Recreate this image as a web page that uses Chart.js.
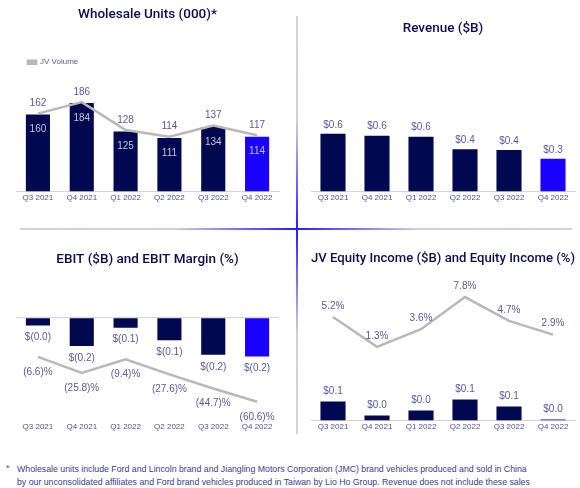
<!DOCTYPE html>
<html>
<head>
<meta charset="utf-8">
<script src="https://cdn.jsdelivr.net/npm/chart.js@4.4.0/dist/chart.umd.min.js"></script>
<style>
  body { margin: 0; background: #fff; width: 580px; height: 488px; overflow: hidden; position: relative; font-family: 'Liberation Sans', Arial, sans-serif; }
  .panel { position: absolute; }
  .hline { position: absolute; left: 20px; top: 228px; width: 552px; height: 2px;
    background: linear-gradient(to right, #d4d4d4 0%, #cfcfe4 28%, #2a1aff 50%, #cfcfe4 72%, #d4d4d4 100%); }
  .vline { position: absolute; left: 296px; top: 16px; width: 2px; height: 418px;
    background: linear-gradient(to bottom, #d4d4d4 0%, #cfcfe4 25%, #2a1aff 51%, #cfcfe4 76%, #d4d4d4 100%); }
  .note { position: absolute; font-size: 8.75px; line-height: 13px; color: #3c3c8a; white-space: nowrap; }
</style>
</head>
<body>
<div class="panel" style="left:0;top:0;width:297px;height:210px"><canvas id="units"></canvas></div>
<div class="panel" style="left:297px;top:0;width:283px;height:210px"><canvas id="revenue"></canvas></div>
<div class="panel" style="left:0;top:229px;width:297px;height:207px"><canvas id="ebit"></canvas></div>
<div class="panel" style="left:297px;top:229px;width:283px;height:207px"><canvas id="equity"></canvas></div>
<div class="hline"></div>
<div class="vline"></div>
<div class="note" style="left:6px;top:462px">*</div>
<div class="note" style="left:17px;top:463px">Wholesale units include Ford and Lincoln brand and Jiangling Motors Corporation (JMC) brand vehicles produced and sold in China</div>
<div class="note" style="left:17px;top:476px">by our unconsolidated affiliates and Ford brand vehicles produced in Taiwan by Lio Ho Group. Revenue does not include these sales</div>
<script>
var quarters = ['Q3 2021', 'Q4 2021', 'Q1 2022', 'Q2 2022', 'Q3 2022', 'Q4 2022'];
var wholesaleUnits = [160, 184, 125, 111, 134, 114];
var jvVolume = [162, 186, 128, 114, 137, 117];
var revenue = [0.60, 0.58, 0.57, 0.44, 0.43, 0.34];
var ebit = [-0.044, -0.16, -0.056, -0.128, -0.21, -0.22];
var ebitMargin = [-6.6, -25.8, -9.4, -27.6, -44.7, -60.6];
var jvEquityIncome = [0.076, 0.02, 0.04, 0.084, 0.056, 0.004];
var equityIncomePct = [5.2, 1.3, 3.6, 7.8, 4.7, 2.9];

var fontFamily = "'Liberation Sans', Arial, sans-serif";
var navy = '#000850';
var brightBlue = '#1a00ff';
var lineGrey = '#b8b8b8';
var labelColor = '#5858a2';
var titleColor = '#0c0c52';

Chart.defaults.font.family = fontFamily;
Chart.defaults.animation = false;

// couleur des barres : la derniere en bleu vif
function barColors(n) {
    var c = [];
    for (var i = 0; i < n; i++) c.push(i == n - 1 ? brightBlue : navy);
    return c;
}

// plugin pour afficher les valeurs sur les barres / points
var valueLabels = {
    id: 'valueLabels',
    afterDatasetsDraw: function (chart) {
        var ctx = chart.ctx;
        chart.data.datasets.forEach(function (ds, i) {
            if (!ds.valueLabel) return;
            var o = ds.valueLabel;
            var meta = chart.getDatasetMeta(i);
            ctx.save();
            ctx.font = '10px ' + fontFamily;
            ctx.fillStyle = o.color || labelColor;
            ctx.textAlign = 'center';
            ctx.textBaseline = 'middle';
            meta.data.forEach(function (el, j) {
                ctx.fillText(o.format(ds.data[j]), el.x, el.y + o.dy);
            });
            ctx.restore();
        });
    }
};

function xAxis(showBorder) {
    return {
        grid: { display: false, drawTicks: false },
        border: { display: showBorder, color: '#d4d4e0', width: 1 },
        ticks: { color: '#5050a0', font: { size: 8 }, padding: 2, maxRotation: 0, autoSkip: false }
    };
}

function titleOpt(text, top, bottom) {
    return {
        display: true, text: text, color: titleColor,
        font: { family: "Roboto, 'Liberation Sans', sans-serif", size: 13.5, weight: '500' },
        padding: { top: top, bottom: bottom }
    };
}

function hiddenAxis(min, max, pos, zeroLine) {
    var a = { display: zeroLine ? true : false, min: min, max: max, position: pos || 'left',
        ticks: { display: false }, border: { display: false } };
    if (zeroLine) {
        a.grid = { drawTicks: false, color: '#d4d4d4', lineWidth: 1 };
        a.afterBuildTicks = function (axis) { axis.ticks = [{ value: 0 }]; };
    }
    return a;
}

// Wholesale units
new Chart(document.getElementById('units'), {
    type: 'bar',
    data: {
        labels: quarters,
        datasets: [{
            type: 'line', label: 'JV Volume', data: jvVolume, order: 0,
            borderColor: lineGrey, backgroundColor: lineGrey, borderWidth: 2.5, pointRadius: 0,
            valueLabel: { dy: -10, format: function (v) { return String(v); } }
        }, {
            label: 'Wholesale', data: wholesaleUnits, order: 1,
            backgroundColor: barColors(6), barPercentage: 0.55, categoryPercentage: 1,
            valueLabel: { dy: 15, color: '#c4c4dc', format: function (v) { return String(v); } }
        }]
    },
    options: {
        responsive: true, maintainAspectRatio: false,
        layout: { padding: { left: 16, right: 18, top: 0, bottom: 5 } },
        scales: { x: xAxis(true), y: hiddenAxis(0, 240) },
        plugins: {
            title: titleOpt('Wholesale Units (000)*', 7, 23),
            legend: {
                display: true, position: 'top', align: 'start',
                labels: {
                    boxWidth: 8, boxHeight: 3, padding: 12, color: labelColor, font: { size: 8 },
                    filter: function (item) { return item.datasetIndex == 0; }
                }
            },
            tooltip: { enabled: false }
        }
    },
    plugins: [valueLabels]
});

// Revenue
new Chart(document.getElementById('revenue'), {
    type: 'bar',
    data: {
        labels: quarters,
        datasets: [{
            label: 'Revenue', data: revenue,
            backgroundColor: barColors(6), barPercentage: 0.57, categoryPercentage: 1,
            valueLabel: { dy: -9, format: function (v) { return '$' + v.toFixed(1); } }
        }]
    },
    options: {
        responsive: true, maintainAspectRatio: false,
        layout: { padding: { left: 14, right: 5, top: 0, bottom: 5 } },
        scales: { x: xAxis(true), y: hiddenAxis(0, 1.2) },
        plugins: { title: titleOpt('Revenue ($B)', 21, 39), legend: { display: false }, tooltip: { enabled: false } }
    },
    plugins: [valueLabels]
});

// EBIT
new Chart(document.getElementById('ebit'), {
    type: 'bar',
    data: {
        labels: quarters,
        datasets: [{
            type: 'line', label: 'EBIT Margin', data: ebitMargin, yAxisID: 'y2', order: 0,
            borderColor: lineGrey, borderWidth: 2.5, pointRadius: 0,
            valueLabel: { dy: 15, format: function (v) { return '(' + Math.abs(v).toFixed(1) + ')%'; } }
        }, {
            label: 'EBIT', data: ebit, order: 1,
            backgroundColor: barColors(6), barPercentage: 0.55, categoryPercentage: 1,
            valueLabel: { dy: 12, format: function (v) { return '$(' + Math.abs(v).toFixed(1) + ')'; } }
        }]
    },
    options: {
        responsive: true, maintainAspectRatio: false,
        layout: { padding: { left: 16, right: 18, top: 0, bottom: 2 } },
        scales: { x: xAxis(false), y: hiddenAxis(-0.583, 0.1, 'left', true), y2: hiddenAxis(-83, 61.6, 'right') },
        plugins: { title: titleOpt('EBIT ($B) and EBIT Margin (%)', 23, 32), legend: { display: false }, tooltip: { enabled: false } }
    },
    plugins: [valueLabels]
});

// JV equity income
new Chart(document.getElementById('equity'), {
    type: 'bar',
    data: {
        labels: quarters,
        datasets: [{
            type: 'line', label: 'Equity Income %', data: equityIncomePct, yAxisID: 'y2', order: 0,
            borderColor: lineGrey, borderWidth: 2.5, pointRadius: 0,
            valueLabel: { dy: -11, format: function (v) { return v.toFixed(1) + '%'; } }
        }, {
            label: 'JV Equity Income', data: jvEquityIncome, order: 1,
            backgroundColor: barColors(6), barPercentage: 0.57, categoryPercentage: 1,
            valueLabel: { dy: -10, format: function (v) { return '$' + v.toFixed(1); } }
        }]
    },
    options: {
        responsive: true, maintainAspectRatio: false,
        layout: { padding: { left: 14, right: 5, top: 0, bottom: 2 } },
        scales: { x: xAxis(true), y: hiddenAxis(0, 0.524), y2: hiddenAxis(-8.3, 8.7, 'right') },
        plugins: { title: titleOpt('JV Equity Income ($B) and Equity Income (%)', 22, 23), legend: { display: false }, tooltip: { enabled: false } }
    },
    plugins: [valueLabels]
});
</script>
</body>
</html>
